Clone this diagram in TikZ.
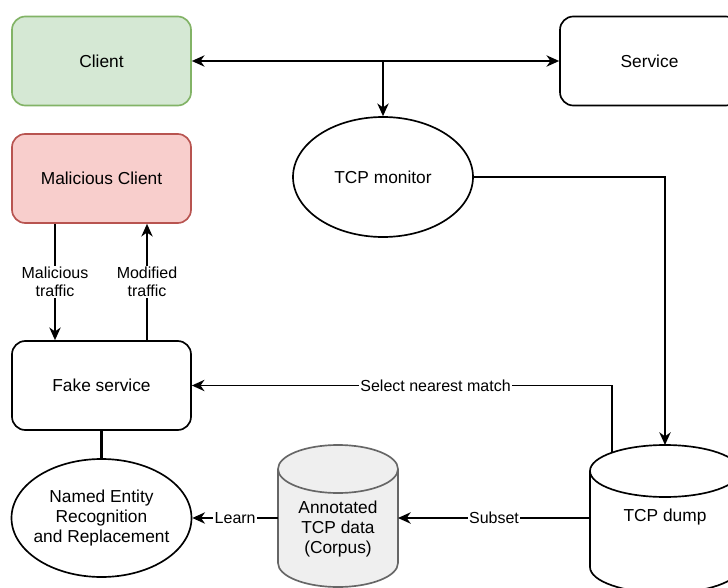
\documentclass[tikz,border=0pt]{standalone}
\usepackage{fontspec}
\setmainfont{Liberation Sans}
\usetikzlibrary{arrows.meta,shapes.geometric}
\definecolor{clientfill}{HTML}{D5E8D4}
\definecolor{clientline}{HTML}{82B366}
\definecolor{evilfill}{HTML}{F8CECC}
\definecolor{evilline}{HTML}{B85450}
\definecolor{corpusfill}{HTML}{EFEFEF}
\definecolor{corpusline}{HTML}{666666}
\begin{document}
\begin{tikzpicture}[x=0.75pt,y=0.75pt,
  txt/.style={font=\fontsize{13}{15}\selectfont, align=center},
  box/.style={draw, rounded corners=10pt, minimum width=134.25pt, minimum height=66.75pt,
    line width=1.25pt, txt},
  oval/.style={ellipse, draw, line width=1.25pt, minimum width=135pt, minimum height=90pt, inner sep=0pt},
  tip/.tip={Stealth[length=9.5pt,width=8.5pt,inset=3pt]},
  conn/.style={line width=1.35pt, -tip},
  both/.style={line width=1.35pt, tip-tip},
  lbl/.style={fill=white, font=\fontsize{12}{13.5}\selectfont, inner sep=1pt, align=center}]
\clip (0,0) rectangle (728,587);
\fill[white] (0,0) rectangle (728,587);

% boxes
\node[box, fill=clientfill, draw=clientline] (client) at (101.5,526) {Client};
\node[box] (service) at (649.5,526) {Service};
\node[box, fill=evilfill, draw=evilline] (mal) at (101.5,408.5) {Malicious Client};
\node[box] (fake) at (101.5,201.5) {Fake service};

% ellipses
\node[oval] (mon) at (383,410) {};
\node[txt] at (mon.center) {TCP monitor};
\node[oval, minimum height=88.5pt] (ner) at (101.5,69) {};
\node[txt] at (ner.center) {Named Entity\\Recognition\\and Replacement};

% corpus cylinder
\filldraw[fill=corpusfill, draw=corpusline, line width=1.25pt]
  (278,118) -- (278,24) arc[start angle=180,end angle=360,x radius=60,y radius=24]
  -- (398,118) arc[start angle=0,end angle=180,x radius=60,y radius=24] -- cycle;
\draw[corpusline, line width=1.25pt] (278,118) arc[start angle=180,end angle=360,x radius=60,y radius=24];
\node[txt] (corpus) at (338,58) {Annotated\\TCP data\\(Corpus)};
\coordinate (annE) at (398,69);
\coordinate (annW) at (278,69);

% dump cylinder
\filldraw[fill=white, draw=black, line width=1.25pt]
  (590,116) -- (590,20) arc[start angle=180,end angle=360,x radius=75,y radius=26]
  -- (740,116) arc[start angle=0,end angle=180,x radius=75,y radius=26] -- cycle;
\draw[line width=1.25pt] (590,116) arc[start angle=180,end angle=360,x radius=75,y radius=26];
\node[txt] (dump) at (665,70) {TCP dump};
\coordinate (dumpTop) at (665,142);
\coordinate (dumpW) at (590,69);
\coordinate (dumpTap) at (612,134.4);

% connectors
\draw[both] (client.east) -- (service.west);
\coordinate (tap) at (383,526);
\draw[conn] (tap) -- (mon.north);
\draw[conn] (mon.east) -| (dumpTop);
\draw[conn] (dumpTap) |- (fake.east) node[lbl, pos=0.71] {Select nearest match};
\draw[conn] (dumpW) -- (annE) node[lbl, midway] {Subset};
\draw[conn] (annW) -- (ner.east) node[lbl, midway] {Learn};

\coordinate (downX) at (55,0);
\coordinate (upX) at (147,0);
\draw[conn] (mal.south -| downX) -- (fake.north -| downX) node[lbl, midway] {Malicious\\traffic};
\draw[conn] (fake.north -| upX) -- (mal.south -| upX) node[lbl, midway] {Modified\\traffic};
\draw[line width=2.4pt] (fake.south) -- (ner.north);
\end{tikzpicture}
\end{document}
